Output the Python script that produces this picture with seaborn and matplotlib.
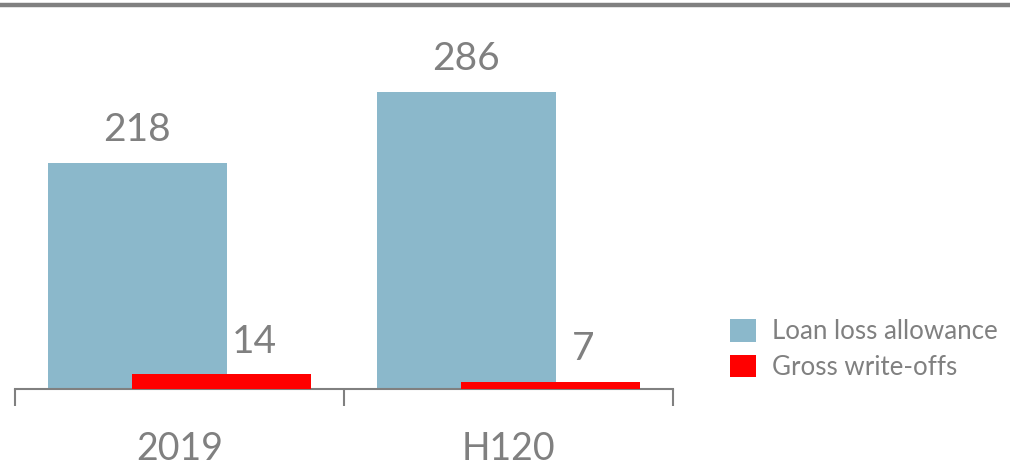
import numpy as np
import pandas as pd
import seaborn as sns
import matplotlib
matplotlib.use('Agg')
from matplotlib import pyplot as plt
from matplotlib.lines import Line2D
from matplotlib.patches import Patch

# data
periods = ['2019', 'H120']
loan_loss_allowance = [218, 286]
gross_write_offs = [14, 7]
series_names = ['Loan loss allowance', 'Gross write-offs']

blue = '#8BB8CB'
red = '#FF0000'
grey = '#808080'

sns.set_style('white')
plt.rcParams['font.family'] = ['Lato', 'DejaVu Sans']

fig = plt.figure(figsize=(10.1, 4.67), dpi=100)
ax = fig.add_axes([15 / 1010, 1 - 389 / 467, 658 / 1010, 379 / 467])

pos = np.arange(len(periods))
shift = 0.128
df_a = pd.DataFrame({'x': pos - shift, 'v': loan_loss_allowance})
df_w = pd.DataFrame({'x': pos + shift, 'v': gross_write_offs})

sns.barplot(data=df_a, x='x', y='v', native_scale=True, width=0.544,
            color=blue, saturation=1, linewidth=0, ax=ax, zorder=2)
sns.barplot(data=df_w, x='x', y='v', native_scale=True, width=0.544,
            color=red, saturation=1, linewidth=0, ax=ax, zorder=3)

# value labels
for i, v in enumerate(loan_loss_allowance):
    ax.text(pos[i] - shift, v + 14, str(v), ha='center', va='bottom',
            fontsize=28, color=grey)
for i, v in enumerate(gross_write_offs):
    ax.text(pos[i] + shift + 0.1, v + 14, str(v), ha='center', va='bottom',
            fontsize=28, color=grey)

ax.set_xlim(-0.5, 1.5)
ax.set_ylim(0, 365)
ax.set_xlabel('')
ax.set_ylabel('')
ax.set_yticks([])
ax.set_xticks(pos)
ax.set_xticklabels(periods, fontsize=27, color=grey)
ax.set_xticks([-0.5, 0.5, 1.5], minor=True)
ax.tick_params(axis='x', which='major', length=0, pad=30)
ax.tick_params(axis='x', which='minor', length=12, width=1.5, color=grey,
               direction='out', bottom=True)
for s in ['top', 'right', 'left']:
    ax.spines[s].set_visible(False)
ax.spines['bottom'].set_color(grey)
ax.spines['bottom'].set_linewidth(1.5)

handles = [Patch(facecolor=blue, edgecolor='none'),
           Patch(facecolor=red, edgecolor='none')]
leg = fig.legend(handles, series_names, loc='upper left',
                 bbox_to_anchor=(720 / 1010, 1 - 309 / 467), frameon=False,
                 fontsize=18.6, labelcolor=grey, handlelength=1.0,
                 handleheight=0.95, handletextpad=0.6, labelspacing=0.4,
                 borderaxespad=0)

# grey rule at the top of the panel
fig.add_artist(Line2D([0, 1], [1 - 5 / 467, 1 - 5 / 467],
                      transform=fig.transFigure, color=grey, linewidth=3.2))

fig.savefig('out.png', dpi=100)
